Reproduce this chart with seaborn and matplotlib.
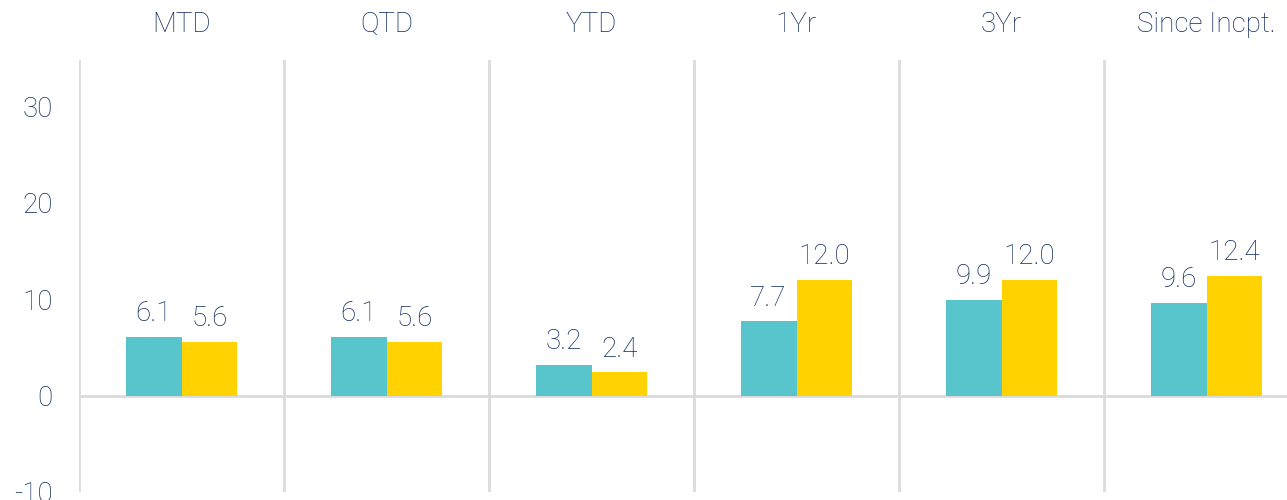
import pandas as pd
import matplotlib.pyplot as plt
import seaborn as sns

# data
periods = ["MTD", "QTD", "YTD", "1Yr", "3Yr", "Since Incpt."]
fund = [6.1, 6.1, 3.2, 7.7, 9.9, 9.6]
benchmark = [5.6, 5.6, 2.4, 12.0, 12.0, 12.4]
series_names = ["Fund", "Benchmark"]
y_ticks = [-10, 0, 10, 20, 30]

NAVY = "#102c62"
TEAL = "#58c5cc"
YELLOW = "#ffd200"
GRID = "#dadada"
FS = 20

df = pd.DataFrame({
    "period": periods * 2,
    "value": fund + benchmark,
    "series": [series_names[0]] * len(periods) + [series_names[1]] * len(periods),
})

sns.set_theme(style="white")
plt.rcParams["font.family"] = ["Roboto", "DejaVu Sans"]
plt.rcParams["font.weight"] = "light"

fig = plt.figure(figsize=(12.87, 5), dpi=100)
ax = fig.add_axes([79 / 1287, 8 / 500, (1287 - 79) / 1287, (492 - 60) / 500])

sns.barplot(data=df, x="period", y="value", hue="series", palette=[TEAL, YELLOW],
            width=0.546, gap=0, saturation=1, linewidth=0, legend=False, ax=ax)

for c in ax.containers:
    ax.bar_label(c, fmt="%.1f", padding=7, fontsize=FS, color=NAVY, fontweight="light")

# category separators and zero line
for i in range(len(periods)):
    ax.axvline(i - 0.5, color=GRID, lw=2, zorder=0)
ax.axhline(0, color=GRID, lw=2, zorder=0)

ax.set_xlim(-0.5, 5.5 - 22 / 205)
ax.set_ylim(-10, 34.8)
ax.set_yticks(y_ticks)
ax.set_yticklabels([str(t) for t in y_ticks])

ax.xaxis.tick_top()
ax.tick_params(axis="x", length=0, pad=16, labelsize=FS, labelcolor=NAVY)
ax.tick_params(axis="y", length=0, pad=19, labelsize=FS, labelcolor=NAVY)
for lab in ax.get_xticklabels() + ax.get_yticklabels():
    lab.set_fontweight("light")
ax.set_xlabel("")
ax.set_ylabel("")
for s in ax.spines.values():
    s.set_visible(False)

fig.savefig("out.png", dpi=100)
